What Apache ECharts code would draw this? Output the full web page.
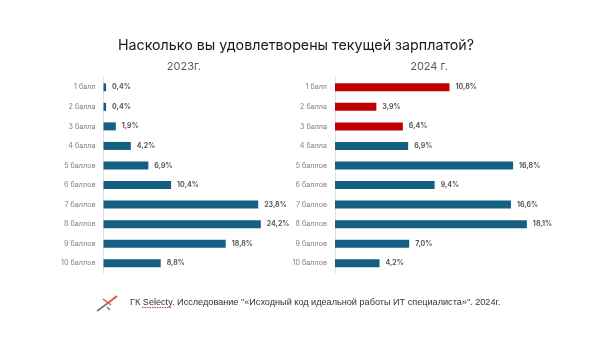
<!DOCTYPE html>
<html><head><meta charset="utf-8">
<style>html,body{margin:0;padding:0;background:#fff}#c{width:602px;height:364px}</style>
<script src="https://cdn.jsdelivr.net/npm/echarts@6/dist/echarts.min.js"></script>
</head><body><div id="c"></div>
<script>
const categories = ['1 балл','2 балла','3 балла','4 балла','5 баллов','6 баллов','7 баллов','8 баллов','9 баллов','10 баллов'];
const values2023 = [0.4,0.4,1.9,4.2,6.9,10.4,23.8,24.2,18.8,8.8];
const values2024 = [10.8,3.9,6.4,6.9,16.8,9.4,16.6,18.1,7.0,4.2];
const highlighted2024 = ['1 балл','2 балла','3 балла'];
const titleText = 'Насколько вы удовлетворены текущей зарплатой?';
const subtitle2023 = '2023г.';
const subtitle2024 = '2024 г.';
const footerText = 'ГК Selecty. Исследование "«Исходный код идеальной работы ИТ специалиста»". 2024г.';
const BLUE = '#156082', RED = '#C00000', FONT = 'Inter, "Liberation Sans", sans-serif';
const fmt = p => String(p.value.toFixed(1)).replace('.', ',') + '%';
const yAxis = i => ({type:'category',gridIndex:i,data:categories,inverse:true,
  axisLine:{lineStyle:{color:'#e0e0e0',width:1}},axisTick:{show:false},
  axisLabel:{color:'#808080',fontSize:7.2,fontFamily:FONT,margin:8}});
const xAxis = (i,max) => ({type:'value',gridIndex:i,min:0,max,show:false});
const series = (i,vals,hl) => ({type:'bar',xAxisIndex:i,yAxisIndex:i,barWidth:8,
  data:vals.map((v,k)=>({value:v,itemStyle:{color:hl.includes(categories[k])?RED:BLUE}})),
  label:{show:true,position:'right',distance:6,formatter:fmt,color:'#595959',fontSize:7,fontWeight:'bold',fontFamily:FONT}});
const chart = echarts.init(document.getElementById('c'),null,{renderer:'canvas'});
chart.setOption({
  animation:false,backgroundColor:'#fff',
  title:[
    {text:titleText,left:296,top:39,padding:0,textAlign:'center',textStyle:{fontSize:14.25,fontWeight:'normal',color:'#1a1a1a',fontFamily:FONT}},
    {text:subtitle2023,left:184,top:61,padding:0,textAlign:'center',textStyle:{fontSize:11,fontWeight:'normal',color:'#595959',fontFamily:FONT}},
    {text:subtitle2024,left:429,top:61,padding:0,textAlign:'center',textStyle:{fontSize:11,fontWeight:'normal',color:'#595959',fontFamily:FONT}}
  ],
  grid:[{left:103.5,top:77.5,width:162.5,height:195.5},{left:335,top:77.5,width:212,height:195.5}],
  xAxis:[xAxis(0,25),xAxis(1,20)],
  yAxis:[yAxis(0),yAxis(1)],
  series:[series(0,values2023,[]),series(1,values2024,highlighted2024)],
  graphic:[
    {type:'text',left:130,top:298,style:{text:footerText,fontSize:9.13,fill:'#333',fontFamily:'"Liberation Sans", sans-serif'}},
    {type:'line',shape:{x1:142,y1:307.5,x2:172,y2:307.5},style:{stroke:'#e03030',lineWidth:1,lineDash:[1.5,1]}},
    {type:'line',shape:{x1:108,y1:303,x2:117,y2:296},style:{stroke:'#e0583a',lineWidth:2}},
    {type:'line',shape:{x1:103,y1:299,x2:111,y2:305},style:{stroke:'#e0583a',lineWidth:1.5}},
    {type:'line',shape:{x1:97,y1:311,x2:108,y2:303},style:{stroke:'#777',lineWidth:1.6}},
    {type:'line',shape:{x1:107,y1:307,x2:110,y2:310},style:{stroke:'#777',lineWidth:1.4}}
  ]
});
</script></body></html>
